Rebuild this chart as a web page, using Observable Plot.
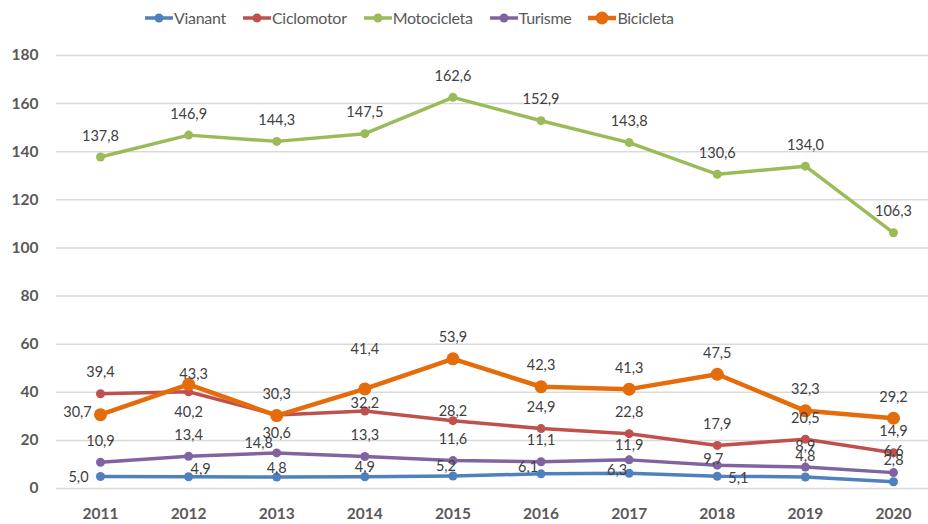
<!DOCTYPE html>
<html>
<head>
<meta charset="utf-8">
<script src="https://cdn.jsdelivr.net/npm/d3@7"></script>
<script src="https://cdn.jsdelivr.net/npm/@observablehq/plot@0.6"></script>
<style>
  html, body { margin: 0; padding: 0; background: #fff; overflow: hidden; }
  #legend { height: 35px; display: flex; align-items: center; padding-left: 145px; gap: 17px;
            font-family: Lato, sans-serif; font-size: 16px; letter-spacing: -0.3px; color: #595959; box-sizing: border-box; }
  .item { display: flex; align-items: center; white-space: nowrap; }
  .item svg { margin-right: 1px; }
  #chart svg { display: block; }
</style>
</head>
<body>
<div id="legend"></div>
<div id="chart"></div>
<script>
// ---- data ----
const years = [2011, 2012, 2013, 2014, 2015, 2016, 2017, 2018, 2019, 2020];
const vianant     = [5.0, 4.9, 4.8, 4.9, 5.2, 6.1, 6.3, 5.1, 4.8, 2.8];
const ciclomotor  = [39.4, 40.2, 30.6, 32.2, 28.2, 24.9, 22.8, 17.9, 20.5, 14.9];
const motocicleta = [137.8, 146.9, 144.3, 147.5, 162.6, 152.9, 143.8, 130.6, 134.0, 106.3];
const turisme     = [10.9, 13.4, 14.8, 13.3, 11.6, 11.1, 11.9, 9.7, 8.9, 6.6];
const bicicleta   = [30.7, 43.3, 30.3, 41.4, 53.9, 42.3, 41.3, 47.5, 32.3, 29.2];
const seriesNames = ["Vianant", "Ciclomotor", "Motocicleta", "Turisme", "Bicicleta"];
const yTicks = [0, 20, 40, 60, 80, 100, 120, 140, 160, 180];

// ---- styles ----
const seriesColors = ["#4f81bd", "#c0504d", "#9bbb59", "#8064a2", "#e46c0a"];
const lineWidths = [3.5, 3.5, 3.5, 3.5, 4.5];
const markerR = [4.5, 4.5, 4.5, 4.5, 6.5];
// label offsets (pixels) from the point; default is above
const defaultNudge = [0, -21];
const labelNudge = {
  "Vianant|2011": [-22, 1], "Vianant|2012": [12, -7], "Vianant|2013": [0, -9],
  "Vianant|2014": [0, -9], "Vianant|2015": [-7, -10], "Vianant|2016": [-13, -6],
  "Vianant|2017": [-12, -3], "Vianant|2018": [21, 2],
  "Turisme|2013": [-18, -10], "Turisme|2017": [0, -15], "Turisme|2018": [-4, -6],
  "Ciclomotor|2012": [0, 21], "Ciclomotor|2013": [0, 18], "Ciclomotor|2014": [0, -8],
  "Ciclomotor|2015": [0, -9],
  "Bicicleta|2011": [-23, -2], "Bicicleta|2012": [5, -10], "Bicicleta|2014": [0, -40]
};

const valuesBySeries = [vianant, ciclomotor, motocicleta, turisme, bicicleta];
const rows = [];
seriesNames.forEach((s, i) => years.forEach((y, j) => rows.push({series: s, si: i, year: y, value: valuesBySeries[i][j]})));

const fmt = v => d3.format(".1f")(v).replace(".", ",");

// legend
const legend = document.getElementById("legend");
seriesNames.forEach((s, i) => {
  const it = document.createElement("div");
  it.className = "item";
  it.innerHTML = `<svg width="28" height="14"><line x1="0" x2="28" y1="7" y2="7" stroke="${seriesColors[i]}" stroke-width="${lineWidths[i]}"/><circle cx="14" cy="7" r="${markerR[i]}" fill="${seriesColors[i]}"/></svg><span>${s}</span>`;
  legend.appendChild(it);
});

const marks = [
  Plot.ruleY(yTicks, {stroke: "#d9d9d9", strokeWidth: 1.5}),
  Plot.axisY({ticks: yTicks, tickSize: 0, tickPadding: 18, fontWeight: "bold", fontSize: 15.5, color: "#595959", label: null}),
  Plot.axisX({ticks: years, tickFormat: d => String(d), tickSize: 0, tickPadding: 19, fontWeight: "bold", fontSize: 15.5, color: "#595959", label: null})
];
seriesNames.forEach((s, i) => {
  const data = rows.filter(r => r.series === s);
  marks.push(Plot.line(data, {x: "year", y: "value", stroke: seriesColors[i], strokeWidth: lineWidths[i], strokeLinejoin: "round"}));
  marks.push(Plot.dot(data, {x: "year", y: "value", r: markerR[i], fill: seriesColors[i], stroke: "none"}));
});
// labels grouped by offset
const groups = d3.group(rows, r => (labelNudge[r.series + "|" + r.year] || defaultNudge).join(","));
for (const [key, data] of groups) {
  const [dx, dy] = key.split(",").map(Number);
  marks.push(Plot.text(data, {x: "year", y: "value", text: d => fmt(d.value), dx, dy, fill: "#404040", fontSize: 14.5, textAnchor: "middle", lineAnchor: "middle"}));
}

const chart = Plot.plot({
  width: 928,
  height: 489,
  marginTop: 20,
  marginBottom: 36,
  marginLeft: 56,
  marginRight: 0,
  style: {fontFamily: "Lato, sans-serif", background: "#fff"},
  x: {type: "linear", domain: [2011, 2020], range: [100, 893]},
  y: {domain: [0, 180]},
  marks
});
document.getElementById("chart").appendChild(chart);
</script>
</body>
</html>
